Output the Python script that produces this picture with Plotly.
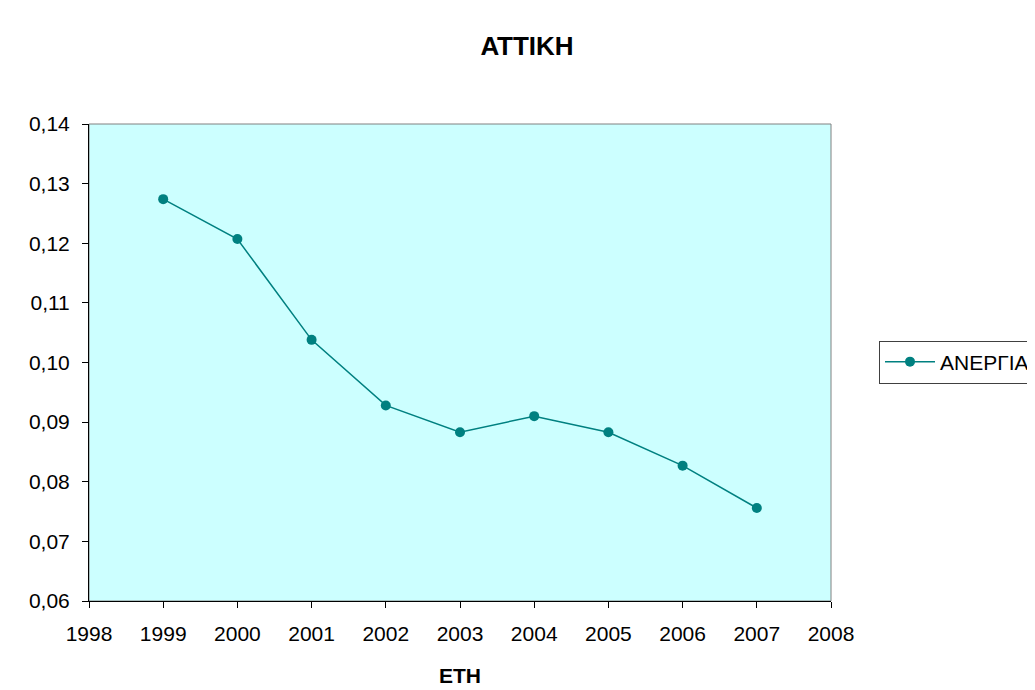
import plotly.graph_objects as go

years = [1999, 2000, 2001, 2002, 2003, 2004, 2005, 2006, 2007]
anergia = [0.1274, 0.1207, 0.1038, 0.0928, 0.0883, 0.0910, 0.0883, 0.0827, 0.0756]
series_name = "ΑΝΕΡΓΙΑ"
title_text = "ΑΤΤΙΚΗ"
x_title = "ΕΤΗ"

teal = "#008080"
fig = go.Figure()
fig.add_trace(go.Scatter(
    x=years, y=anergia, name=series_name, mode="lines+markers",
    line=dict(color=teal, width=1.5),
    marker=dict(color=teal, size=10),
))

font_family = "Liberation Sans, Arial, sans-serif"
fig.update_layout(
    width=1035, height=690,
    margin=dict(l=81, r=212, t=116, b=97, autoexpand=False),
    paper_bgcolor="white",
    plot_bgcolor="#CCFFFF",
    separators=",.",
    font=dict(family=font_family, size=21, color="black"),
    title=dict(text="<b>" + title_text + "</b>", x=519/1035, xanchor="center",
               y=1 - 38/690, yanchor="middle", font=dict(size=26)),
    showlegend=True,
    legend=dict(x=(879-89)/742, xanchor="left", y=(601-362)/477, yanchor="middle",
                bordercolor="#404040", borderwidth=1, bgcolor="white",
                itemwidth=50, font=dict(size=21)),
    xaxis=dict(range=[1998, 2008], dtick=1, tick0=1998, showgrid=False, zeroline=False,
               showline=True, linecolor="#000000", linewidth=1,
               ticks="outside", ticklen=6, tickcolor="#000000", ticklabelstandoff=8,
               title=dict(text="<b>" + x_title + "</b>", standoff=24, font=dict(size=21))),
    yaxis=dict(range=[0.06, 0.14], dtick=0.01, tick0=0.06, tickformat=".2f",
               showgrid=False, zeroline=False,
               showline=True, linecolor="#000000", linewidth=1,
               ticks="outside", ticklen=6, tickcolor="#000000", ticklabelstandoff=8),
    shapes=[dict(type="rect", xref="paper", yref="paper", x0=0, x1=1, y0=0, y1=1,
                 line=dict(color="#808080", width=1), layer="below")],
)

fig.write_html("out.html")
